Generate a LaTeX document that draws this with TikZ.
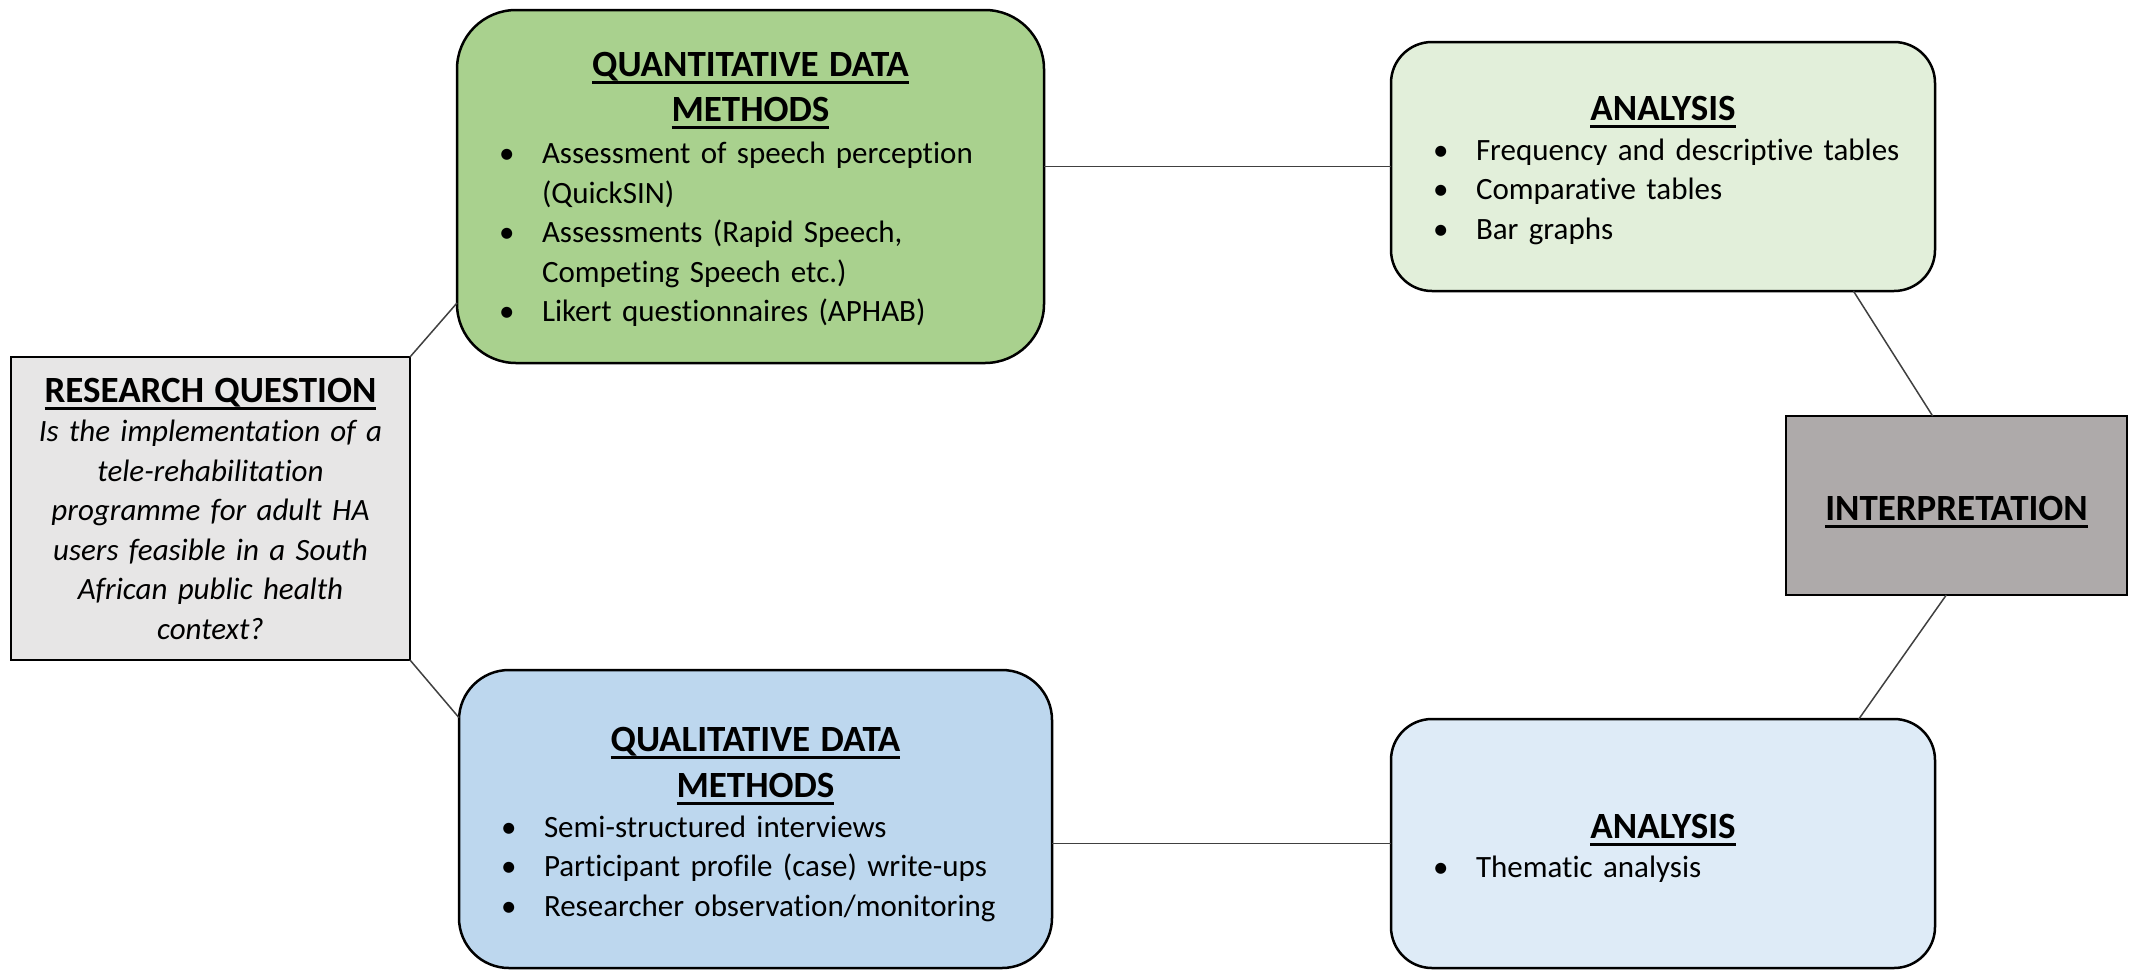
\documentclass[tikz,border=0pt]{standalone}
\usepackage{fontspec}
\setmainfont{Carlito}[Ligatures={NoCommon}]
\usepackage{tikz}
\usetikzlibrary{calc}
\definecolor{quantgreen}{RGB}{169,209,142}
\definecolor{analgreen}{RGB}{226,239,218}
\definecolor{qualblue}{RGB}{189,215,238}
\definecolor{analblue}{RGB}{222,235,247}
\definecolor{rqgrey}{RGB}{231,230,230}
\definecolor{intgrey}{RGB}{174,170,170}
\newcommand{\boxtitle}[2]{\leavevmode\rule{0pt}{#1pt}\setbox0\hbox{\fontsize{37}{44}\selectfont\bfseries #2}\rlap{\rule[-7.5pt]{\wd0}{3pt}}\box0}
\newcommand{\bitem}[1]{\makebox[\linewidth][l]{\hspace{42pt}\makebox[43pt][l]{\textbullet}#1}}
\newcommand{\bcont}[1]{\makebox[\linewidth][l]{\hspace{85pt}#1}}
\newcommand{\lastline}{\rule[-10pt]{0pt}{10pt}}

\begin{document}
\begin{tikzpicture}[x=1pt,y=-1pt,
		box/.style={draw=black,line width=2.5pt,inner sep=0pt,outer sep=0pt,align=center,font=\fontsize{31}{39.5}\selectfont},
		link/.style={draw=black!75,line width=1.5pt}]
			\useasboundingbox (0,0) rectangle (2134,970);
			\node[box,fill=rqgrey,minimum width=399pt,minimum height=303pt,text width=399pt] (rq) at (210.5,508.5)
				{\boxtitle{34}{RESEARCH QUESTION}\\ \itshape Is the implementation of a\\ tele-rehabilitation\\ programme for adult HA\\ users feasible in a South\\ African public health\\ context?\lastline};
			\node[box,fill=quantgreen,rounded corners=59pt,minimum width=587pt,minimum height=353pt,text width=587pt] (quant) at (750.5,186.5)
				{\boxtitle{35}{QUANTITATIVE DATA}\\[5.5pt] \boxtitle{0}{METHODS}\\[2.5pt]
				\bitem{Assessment of speech perception}\\ \bcont{(QuickSIN)}\\
				\bitem{Assessments (Rapid Speech,}\\ \bcont{Competing Speech etc.)}\\
				\bitem{Likert questionnaires (APHAB)}\lastline};
			\node[box,fill=qualblue,rounded corners=50pt,minimum width=593pt,minimum height=298pt,text width=593pt] (qual) at (755.5,819)
				{\boxtitle{40}{QUALITATIVE DATA}\\[6pt] \boxtitle{0}{METHODS}\\[0.5pt]
				\bitem{Semi-structured interviews}\\
				\bitem{Participant profile (case) write-ups}\\
				\bitem{Researcher observation/monitoring}\lastline};
			\node[box,fill=analgreen,rounded corners=41pt,minimum width=544pt,minimum height=249pt,text width=544pt] (ana1) at (1663,166.5)
				{\boxtitle{37}{ANALYSIS}\\
				\bitem{Frequency and descriptive tables}\\
				\bitem{Comparative tables}\\
				\bitem{Bar graphs}\lastline};
			\node[box,fill=analblue,rounded corners=41pt,minimum width=544pt,minimum height=249pt,text width=544pt] (ana2) at (1663,843.5)
				{\boxtitle{39}{ANALYSIS}\\
				\bitem{Thematic analysis}\lastline};
			\node[box,fill=intgrey,minimum width=341pt,minimum height=179pt,text width=341pt] (interp) at (1956.5,505.5)
				{\boxtitle{39}{INTERPRETATION}\lastline};
			\draw[link] (rq.north east) -- ($(quant.south west)!0.17!(quant.north west)$);
			\draw[link] (rq.south east) -- ($(qual.north west)!0.16!(qual.south west)$);
			\draw[link] (quant.east |- ana1.west) -- (ana1.west);
			\draw[link] (qual.east |- ana2.west) -- (ana2.west);
			\draw[link] ($(ana1.south west)!0.85!(ana1.south east)$) -- ($(interp.north west)!0.43!(interp.north east)$);
			\draw[link] ($(interp.south west)!0.47!(interp.south east)$) -- ($(ana2.north west)!0.86!(ana2.north east)$);
		\end{tikzpicture}
\end{document}
